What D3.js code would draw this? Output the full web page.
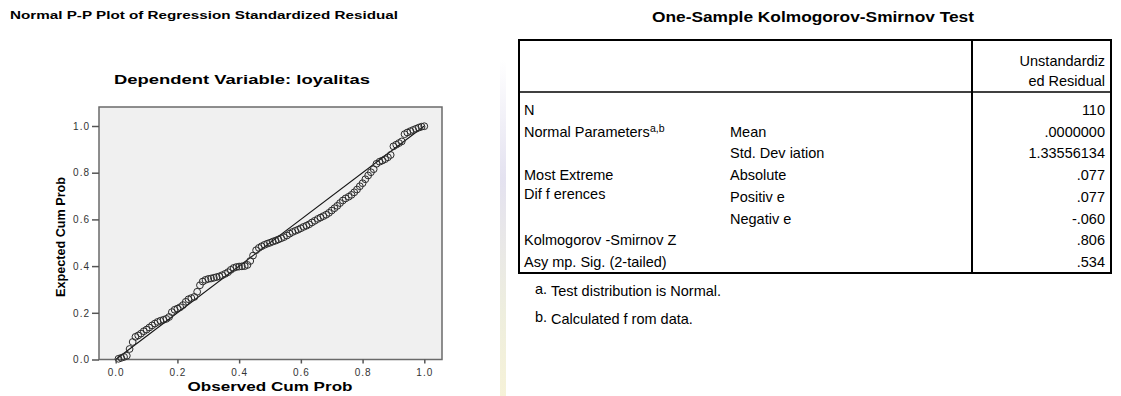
<!DOCTYPE html>
<html>
<head>
<meta charset="utf-8">
<script src="https://cdn.jsdelivr.net/npm/d3@7"></script>
<style>
  html, body { margin: 0; padding: 0; background: #fff; }
  svg { display: block; font-family: Arial, "Liberation Sans", sans-serif; }
</style>
</head>
<body>
<svg id="chart" width="1121" height="396"></svg>
<script>
// P-P plot: observed vs expected cumulative probability
const observed = [
  .009, .018, .027, .036, .045, .055, .064, .073, .082, .091,
  .100, .109, .118, .127, .136, .145, .155, .164, .173, .182,
  .191, .200, .209, .218, .227, .236, .245, .255, .264, .273,
  .282, .291, .300, .309, .318, .327, .336, .345, .355, .364,
  .373, .382, .391, .400, .409, .418, .427, .436, .445, .455,
  .464, .473, .482, .491, .500, .509, .518, .527, .536, .545,
  .555, .564, .573, .582, .591, .600, .609, .618, .627, .636,
  .645, .655, .664, .673, .682, .691, .700, .709, .718, .727,
  .736, .745, .755, .764, .773, .782, .791, .800, .809, .818,
  .827, .836, .845, .855, .864, .873, .882, .891, .900, .909,
  .918, .927, .936, .945, .955, .964, .973, .982, .991, 1.000
];
const expected = [
  .003, .007, .011, .016, .045, .075, .097, .103, .111, .121,
  .128, .137, .146, .154, .161, .166, .170, .174, .182, .203,
  .213, .218, .224, .233, .247, .258, .263, .268, .290, .318,
  .334, .341, .345, .347, .350, .353, .356, .361, .367, .374,
  .384, .392, .396, .398, .399, .400, .405, .422, .445, .468,
  .478, .485, .491, .496, .500, .505, .509, .514, .519, .524,
  .531, .539, .546, .551, .556, .562, .568, .573, .579, .587,
  .594, .602, .608, .614, .620, .628, .638, .648, .658, .670,
  .681, .690, .697, .705, .716, .728, .742, .755, .772, .788,
  .802, .815, .838, .847, .852, .858, .866, .876, .913, .920,
  .927, .934, .965, .972, .978, .983, .988, .993, .997, .999
];
const ticks = [0, 0.2, 0.4, 0.6, 0.8, 1.0];

// K-S test table
const groupLabels = ["N", "Normal Parameters", "", "Most Extreme", "Dif f erences", "", "Kolmogorov -Smirnov  Z", "Asy mp. Sig. (2-tailed)"];
const statLabels = ["", "Mean", "Std. Dev iation", "Absolute", "Positiv e", "Negativ e", "", ""];
const statValues = ["110", ".0000000", "1.33556134", ".077", ".077", "-.060", ".806", ".534"];
const headerLines = ["Unstandardiz", "ed Residual"];
const footnotes = [["a.", "Test distribution is Normal."], ["b.", "Calculated f rom data."]];

const svg = d3.select('#chart');

// ---------- left: P-P plot ----------
const frame = { left: 99, right: 442, top: 107, bottom: 359.5 };
const x = d3.scaleLinear().domain([0, 1]).range([115.7, 424.3]);
const y = d3.scaleLinear().domain([0, 1]).range([359.5, 126]);

svg.append('text')
  .attr('x', 10).attr('y', 19)
  .attr('font-size', 11.5).attr('font-weight', 'bold')
  .attr('textLength', 388).attr('lengthAdjust', 'spacingAndGlyphs')
  .text('Normal P-P Plot of Regression Standardized Residual');

svg.append('text')
  .attr('x', 114).attr('y', 84)
  .attr('font-size', 12.5).attr('font-weight', 'bold')
  .attr('textLength', 256).attr('lengthAdjust', 'spacingAndGlyphs')
  .text('Dependent Variable: loyalitas');

svg.append('rect')
  .attr('x', frame.left).attr('y', frame.top)
  .attr('width', frame.right - frame.left).attr('height', frame.bottom - frame.top)
  .attr('fill', '#f0f0f0')
  .attr('stroke', '#6a6a6a').attr('stroke-width', 1.5);

const plot = svg.append('g');

plot.append('line')
  .attr('x1', x(0)).attr('y1', y(0))
  .attr('x2', x(1)).attr('y2', y(1))
  .attr('stroke', '#111').attr('stroke-width', 1.1);

plot.selectAll('.pt')
  .data(observed.map((o, i) => [o, expected[i]]))
  .enter()
  .append('circle')
  .attr('class', 'pt')
  .attr('cx', d => x(d[0])).attr('cy', d => y(d[1]))
  .attr('r', 3.4)
  .attr('fill', 'none')
  .attr('stroke', '#2a2a2a').attr('stroke-width', 1);

const yAxis = svg.append('g')
  .attr('transform', `translate(${frame.left},0)`)
  .call(d3.axisLeft(y).tickValues(ticks).tickFormat(d3.format('.1f')).tickSize(7).tickPadding(2));
const xAxis = svg.append('g')
  .attr('transform', `translate(0,${frame.bottom})`)
  .call(d3.axisBottom(x).tickValues(ticks).tickFormat(d3.format('.1f')).tickSize(4).tickPadding(5));

[yAxis, xAxis].forEach(ax => {
  ax.select('.domain').remove();
  ax.selectAll('line').attr('stroke', '#555').attr('stroke-width', 1.5);
  ax.selectAll('text')
    .attr('fill', '#333')
    .attr('font-family', 'Arial, "Liberation Sans", sans-serif')
    .attr('font-size', 10).attr('letter-spacing', 1);
});

svg.append('text')
  .attr('x', 270).attr('y', 391)
  .attr('text-anchor', 'middle')
  .attr('font-size', 12.5).attr('font-weight', 'bold')
  .attr('textLength', 165).attr('lengthAdjust', 'spacingAndGlyphs')
  .text('Observed Cum Prob');

svg.append('text')
  .attr('transform', 'translate(65,237) rotate(-90)')
  .attr('text-anchor', 'middle')
  .attr('font-size', 12).attr('font-weight', 'bold')
  .attr('textLength', 120).attr('lengthAdjust', 'spacingAndGlyphs')
  .text('Expected Cum Prob');

// faint strip between the two panels
const grad = svg.append('defs').append('linearGradient')
  .attr('id', 'strip').attr('x1', 0).attr('y1', 0).attr('x2', 0).attr('y2', 1);
grad.append('stop').attr('offset', '0%').attr('stop-color', '#ffffff');
grad.append('stop').attr('offset', '35%').attr('stop-color', '#e4e2f0');
grad.append('stop').attr('offset', '75%').attr('stop-color', '#eeeede');
grad.append('stop').attr('offset', '100%').attr('stop-color', '#f6f2d8');
svg.append('rect')
  .attr('x', 500).attr('y', 60).attr('width', 6).attr('height', 336)
  .attr('fill', 'url(#strip)');

// ---------- right: K-S table ----------
const table = { left: 519, right: 1111, top: 40, headBottom: 92, bottom: 273, divider: 972 };
const rowY = d3.scalePoint().domain(d3.range(statValues.length)).range([115, 267]);

svg.append('text')
  .attr('x', 652).attr('y', 22)
  .attr('font-size', 14).attr('font-weight', 'bold')
  .attr('textLength', 322).attr('lengthAdjust', 'spacingAndGlyphs')
  .text('One-Sample Kolmogorov-Smirnov Test');

svg.append('rect')
  .attr('x', table.left).attr('y', table.top)
  .attr('width', table.right - table.left).attr('height', table.bottom - table.top)
  .attr('fill', 'none').attr('stroke', '#000').attr('stroke-width', 2);
svg.append('line')
  .attr('x1', table.left).attr('x2', table.right)
  .attr('y1', table.headBottom).attr('y2', table.headBottom)
  .attr('stroke', '#000').attr('stroke-width', 1.5);
svg.append('line')
  .attr('x1', table.divider).attr('x2', table.divider)
  .attr('y1', table.top).attr('y2', table.bottom)
  .attr('stroke', '#000').attr('stroke-width', 2);

const body = svg.append('g').attr('font-size', 14.5).attr('fill', '#000');

body.selectAll('.hdr')
  .data(headerLines)
  .enter().append('text')
  .attr('class', 'hdr')
  .attr('x', 1105).attr('y', (d, i) => 66 + i * 20)
  .attr('text-anchor', 'end')
  .text(d => d);

body.selectAll('.grp')
  .data(groupLabels)
  .enter().append('text')
  .attr('class', 'grp')
  .attr('x', 524).attr('y', (d, i) => rowY(i) - (i === 4 ? 3 : 0))
  .text(d => d);

// superscript on "Normal Parameters"
body.append('text')
  .attr('x', 650).attr('y', rowY(1) - 5)
  .attr('font-size', 10.5)
  .text('a,b');

body.selectAll('.stat')
  .data(statLabels)
  .enter().append('text')
  .attr('class', 'stat')
  .attr('x', 730).attr('y', (d, i) => rowY(i))
  .text(d => d);

body.selectAll('.val')
  .data(statValues)
  .enter().append('text')
  .attr('class', 'val')
  .attr('x', 1105).attr('y', (d, i) => rowY(i))
  .attr('text-anchor', 'end')
  .text(d => d);

const notes = svg.append('g').attr('font-size', 14.5);
footnotes.forEach((f, i) => {
  const by = 296 + i * 28;
  notes.append('text').attr('x', 535).attr('y', by - 2).text(f[0]);
  notes.append('text').attr('x', 551).attr('y', by).text(f[1]);
});
</script>
</body>
</html>
